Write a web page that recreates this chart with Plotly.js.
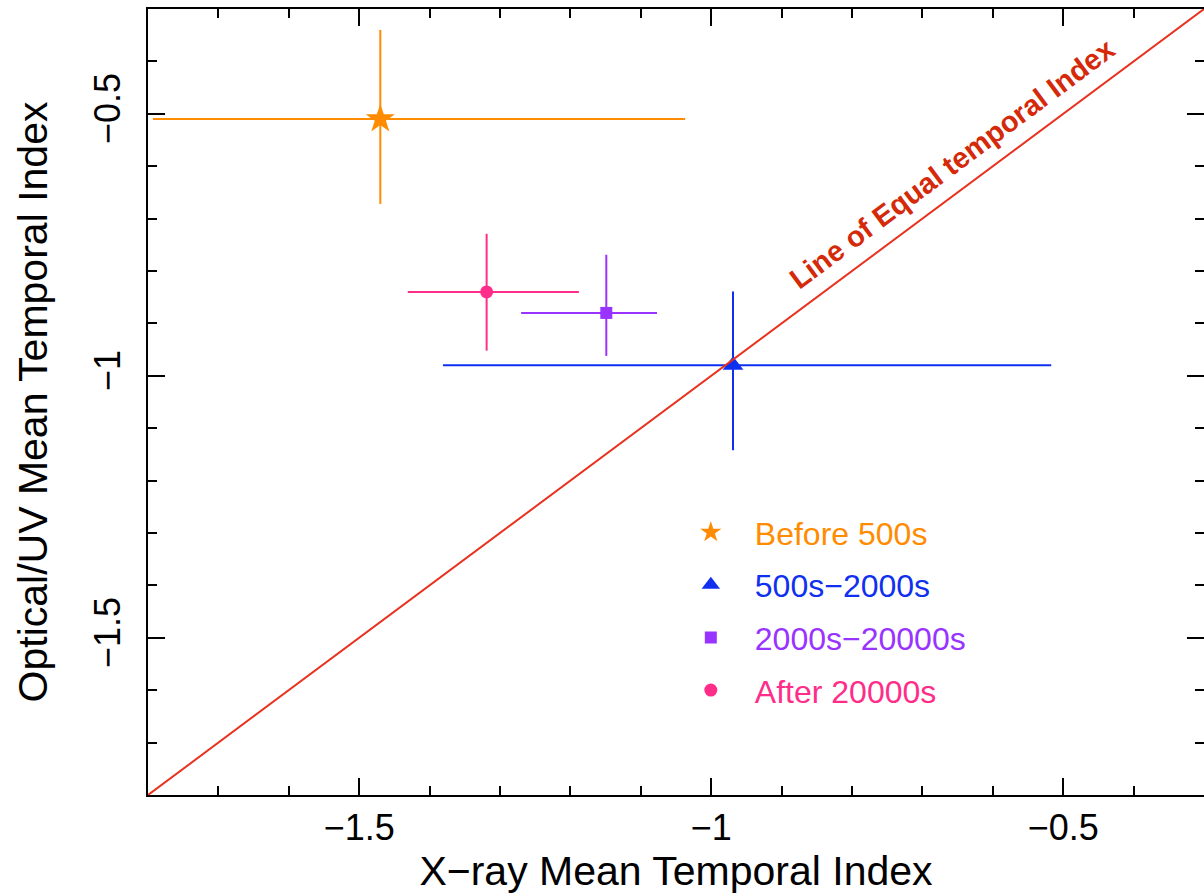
<!DOCTYPE html>
<html>
<head>
<meta charset="utf-8">
<script src="https://cdn.plot.ly/plotly-3.0.1.min.js"></script>
<style>html,body{margin:0;padding:0;background:#fff;}</style>
</head>
<body>
<div id="chart" style="width:1204px;height:895px;"></div>
<script>
// Data
const seriesNames = ['Before 500s', '500s\u22122000s', '2000s\u221220000s', 'After 20000s'];
const seriesColors = ['#ff8c00', '#1030f0', '#9933ff', '#ff2d8a'];
const seriesSymbols = ['star', 'triangle-up', 'square', 'circle'];
const xValues = [-1.470, -0.969, -1.149, -1.319];
const yValues = [-0.510, -0.980, -0.880, -0.840];
const xErrPlus = [0.433, 0.452, 0.072, 0.131];
const xErrMinus = [0.323, 0.412, 0.121, 0.112];
const yErrPlus = [0.170, 0.141, 0.111, 0.111];
const yErrMinus = [0.162, 0.162, 0.082, 0.112];
const markerSizes = [22, 18, 12, 13];
const equalLineX = [-1.8, -0.3];
const equalLineY = [-1.8, -0.3];
const lineLabel = 'Line of Equal temporal Index';

const traces = seriesNames.map((n, i) => ({
  type: 'scatter', mode: 'markers',
  x: [xValues[i]], y: [yValues[i]],
  name: '<span style="color:' + seriesColors[i] + '">' + n + '</span>',
  legendgroup: 'g' + i,
  marker: {symbol: seriesSymbols[i], size: markerSizes[i], color: seriesColors[i], line: {width: 0}},
  error_x: {type: 'data', symmetric: false, array: [xErrPlus[i]], arrayminus: [xErrMinus[i]], color: seriesColors[i], thickness: 2, width: 0},
  error_y: {type: 'data', symmetric: false, array: [yErrPlus[i]], arrayminus: [yErrMinus[i]], color: seriesColors[i], thickness: 2, width: 0}
}));
traces.push({
  type: 'scatter', mode: 'lines', x: equalLineX, y: equalLineY,
  line: {color: '#e8321e', width: 2}, showlegend: false, hoverinfo: 'skip'
});

const font = 'Liberation Sans, Arial, Helvetica, sans-serif';
const axisCommon = {
  showline: true, linecolor: '#000', linewidth: 2, mirror: 'ticks',
  ticks: 'inside', ticklen: 17, tickwidth: 2, tickcolor: '#000',
  dtick: 0.5, showgrid: false, zeroline: false,
  minor: {ticks: 'inside', ticklen: 9, tickwidth: 2, tickcolor: '#000', dtick: 0.1, showgrid: false},
  tickfont: {family: font, size: 36, color: '#000'},
  autorange: false
};

const layout = {
  width: 1204, height: 895,
  margin: {l: 148, r: 0, t: 9, b: 100},
  paper_bgcolor: '#fff', plot_bgcolor: '#fff',
  font: {family: font, color: '#000'},
  xaxis: Object.assign({}, axisCommon, {
    range: [-1.8, -0.3], tick0: -1.5,
    title: {text: 'X\u2212ray Mean Temporal Index', font: {family: font, size: 41, color: '#000'}, standoff: 6}
  }),
  yaxis: Object.assign({}, axisCommon, {
    range: [-1.8, -0.3], tick0: -1.5, tickangle: -90, ticklabelstandoff: 12,
    title: {text: 'Optical/UV Mean Temporal Index', font: {family: font, size: 41, color: '#000'}, standoff: 26}
  }),
  showlegend: true,
  legend: {
    x: 0.4913, y: 0.369, xanchor: 'left', yanchor: 'top',
    bgcolor: 'rgba(0,0,0,0)', borderwidth: 0,
    font: {family: font, size: 32},
    tracegroupgap: 8, itemsizing: 'trace', itemwidth: 78
  },
  annotations: [{
    text: '<b>' + lineLabel + '</b>', x: -0.658, y: -0.596, xref: 'x', yref: 'y',
    showarrow: false, textangle: -36.7,
    font: {family: font, size: 29, color: '#d42a0a'}
  }]
};

Plotly.newPlot('chart', traces, layout, {displayModeBar: false, staticPlot: true});
</script>
</body>
</html>
